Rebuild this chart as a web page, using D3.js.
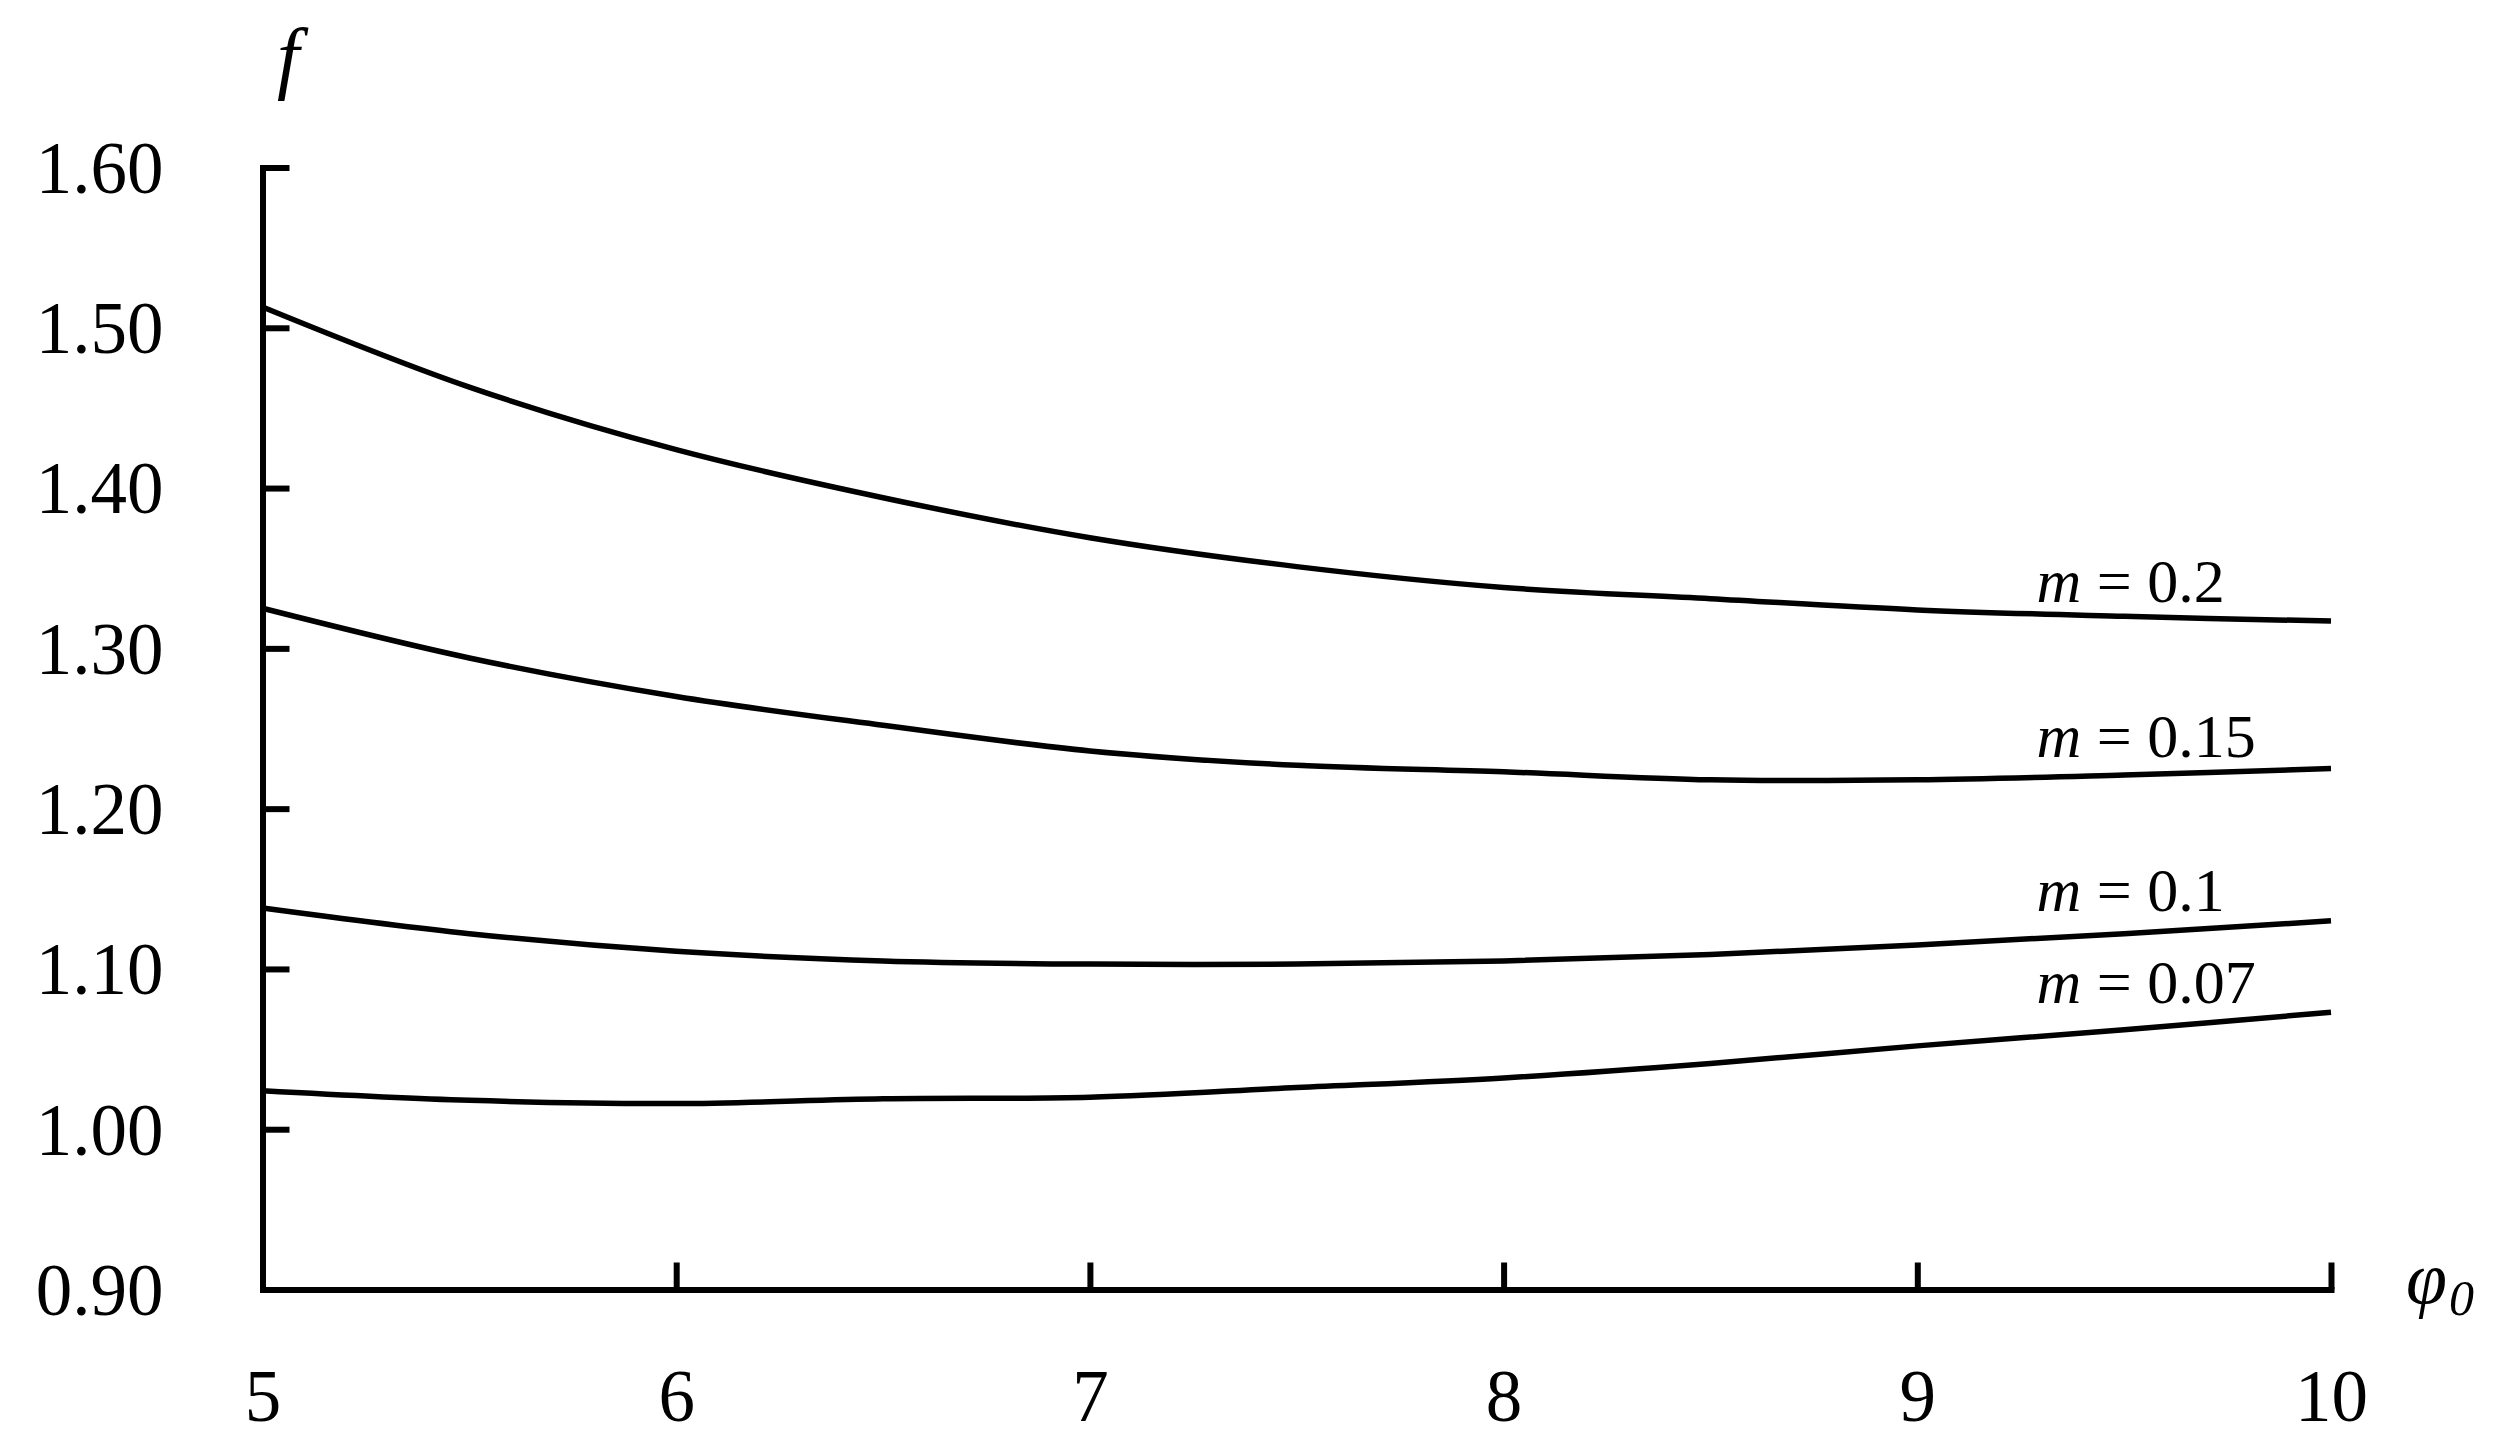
<!DOCTYPE html>
<html>
<head>
<meta charset="utf-8">
<script src="https://cdn.jsdelivr.net/npm/d3@7"></script>
<style>
  html, body { margin: 0; padding: 0; background: #fff; }
  svg { display: block; }
  text { font-family: "Liberation Serif", "Times New Roman", serif; fill: #000; }
</style>
</head>
<body>
<svg id="chart" width="2505" height="1455"></svg>
<script>
// ---- data ----
const phi0 = [5, 5.5, 6, 6.5, 7, 7.5, 8, 8.5, 9, 9.5, 10];
const fM020 = [1.513, 1.463, 1.424, 1.394, 1.369, 1.351, 1.338, 1.331, 1.324, 1.320, 1.317];
const fM015 = [1.325, 1.294, 1.270, 1.252, 1.236, 1.227, 1.223, 1.218, 1.218, 1.221, 1.225];
const fM010 = [1.138, 1.122, 1.111, 1.105, 1.103, 1.103, 1.105, 1.109, 1.115, 1.122, 1.130];
const fM007 = [1.024, 1.018, 1.016, 1.019, 1.020, 1.026, 1.032, 1.041, 1.052, 1.062, 1.073];
const mValues = ["0.2", "0.15", "0.1", "0.07"];
const xTicks = [5, 6, 7, 8, 9, 10];
const yTicks = [0.9, 1.0, 1.1, 1.2, 1.3, 1.4, 1.5, 1.6];

const seriesList = [fM020, fM015, fM010, fM007];

// ---- layout ----
const svg = d3.select("#chart");
const x = d3.scaleLinear().domain([5, 10]).range([262.5, 2331]);
const y = d3.scaleLinear().domain([0.9, 1.6]).range([1289.5, 167.5]);

const tickFont = 73;

// y axis
const yAxis = d3.axisLeft(y)
  .tickValues(yTicks)
  .tickFormat(d3.format(".2f"))
  .tickSizeInner(-27)
  .tickSizeOuter(0)
  .tickPadding(99);
const gy = svg.append("g").attr("transform", `translate(${x(5)},0)`).call(yAxis);
gy.select(".domain").attr("stroke", "#000").attr("stroke-width", 6).attr("stroke-linecap", "square");
gy.selectAll(".tick line").attr("stroke", "#000").attr("stroke-width", 6);
gy.selectAll(".tick").filter(d => d === 0.9).select("line").remove();
gy.selectAll(".tick text")
  .attr("font-size", tickFont)
  .attr("font-family", "Liberation Serif, serif")
  .attr("dy", "0.34em");

// x axis
const xAxis = d3.axisBottom(x)
  .tickValues(xTicks)
  .tickFormat(d3.format("d"))
  .tickSizeInner(-27)
  .tickSizeOuter(0)
  .tickPadding(80);
const gx = svg.append("g").attr("transform", `translate(0,${y(0.9)})`).call(xAxis);
gx.select(".domain").attr("stroke", "#000").attr("stroke-width", 6).attr("stroke-linecap", "square");
gx.selectAll(".tick line").attr("stroke", "#000").attr("stroke-width", 6);
gx.selectAll(".tick").filter(d => d === 5).select("line").remove();
gx.selectAll(".tick text")
  .attr("font-size", tickFont)
  .attr("font-family", "Liberation Serif, serif")
  .attr("dy", "0.71em");

// curves
const line = d3.line()
  .x((d, i) => x(phi0[i]))
  .y(d => y(d))
  .curve(d3.curveCatmullRom.alpha(0.5));

svg.append("g").selectAll("path.curve")
  .data(seriesList)
  .join("path")
  .attr("class", "curve")
  .attr("d", d => line(d))
  .attr("fill", "none")
  .attr("stroke", "#000")
  .attr("stroke-width", 5.5)
  .attr("stroke-linejoin", "round");

// curve labels
const labelDy = [-19, -12, -10, -9];
const labelX = x(9.288);
const lab = svg.append("g").selectAll("text.mlabel")
  .data(mValues)
  .join("text")
  .attr("class", "mlabel")
  .attr("x", labelX)
  .attr("y", (d, i) => y(seriesList[i][seriesList[i].length - 1]) + labelDy[i])
  .attr("font-size", 62);
lab.append("tspan").attr("font-style", "italic").text("m");
lab.append("tspan").text(d => " = " + d);

// axis titles
svg.append("text")
  .attr("x", 288)
  .attr("y", 84)
  .attr("text-anchor", "middle")
  .attr("font-size", 80)
  .attr("font-style", "italic")
  .text("f");

const phiLabel = svg.append("text")
  .attr("x", 2406)
  .attr("y", 1303)
  .attr("font-size", 74)
  .attr("font-style", "italic");
phiLabel.append("tspan").text("φ");
phiLabel.append("tspan").attr("font-size", 50).attr("dy", 12).attr("dx", 2).text("0");
</script>
</body>
</html>
